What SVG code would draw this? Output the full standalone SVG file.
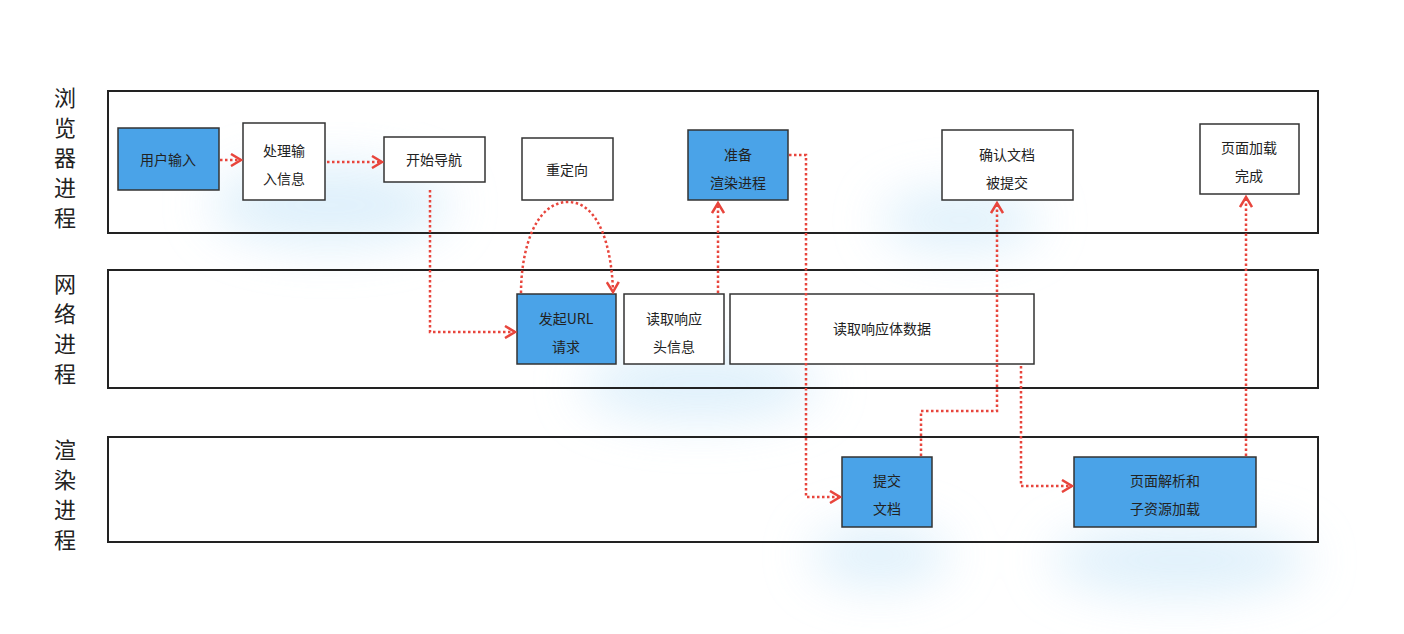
<svg xmlns="http://www.w3.org/2000/svg" width="1404" height="634" viewBox="0 0 1404 634">
<style>
.lane{fill:none;stroke:#222;stroke-width:2}
.n{stroke:#333;stroke-width:1.5;fill:#fff}
.b{fill:#4aa3e8}
text{font-family:"Noto Sans CJK SC","Liberation Sans",sans-serif;font-size:14px;fill:#222;text-anchor:middle}
.lbl{font-size:22px}
.c{fill:none;stroke:#e8453c;stroke-width:2.5;stroke-dasharray:2.5 2.5}
</style>
<defs>
<marker id="ah" viewBox="0 0 14 14" refX="12" refY="7" markerWidth="14" markerHeight="14" markerUnits="userSpaceOnUse" orient="auto"><path d="M2,1 L12,7 L2,13" fill="none" stroke="#e8453c" stroke-width="2.5"/></marker>
<filter id="bl"><feGaussianBlur stdDeviation="25"/></filter>
</defs>
<rect width="1404" height="634" fill="#fff"/>
<g filter="url(#bl)" fill="#d6ecfa" opacity="0.8">
<ellipse cx="330" cy="205" rx="120" ry="40"/>
<ellipse cx="700" cy="385" rx="120" ry="35"/>
<ellipse cx="960" cy="220" rx="80" ry="30"/>
<ellipse cx="1180" cy="560" rx="130" ry="35"/>
<ellipse cx="880" cy="555" rx="70" ry="30"/>
</g>
<g id="lanes">
<rect class="lane" x="108" y="91" width="1210" height="142"/>
<rect class="lane" x="108" y="270" width="1210" height="118"/>
<rect class="lane" x="108" y="437" width="1210" height="105"/>
<text class="lbl" x="65" y="106">浏</text><text class="lbl" x="65" y="136">览</text><text class="lbl" x="65" y="166">器</text><text class="lbl" x="65" y="196">进</text><text class="lbl" x="65" y="226">程</text>
<text class="lbl" x="65" y="292">网</text><text class="lbl" x="65" y="322">络</text><text class="lbl" x="65" y="352">进</text><text class="lbl" x="65" y="382">程</text>
<text class="lbl" x="65" y="458">渲</text><text class="lbl" x="65" y="488">染</text><text class="lbl" x="65" y="518">进</text><text class="lbl" x="65" y="548">程</text>
</g>
<g id="n1"><rect class="n b" x="118" y="128" width="101" height="62"/><text x="168" y="165">用户输入</text></g>
<g id="n2"><rect class="n" x="243" y="123" width="82" height="77"/><text x="284" y="156">处理输</text><text x="284" y="184">入信息</text></g>
<g id="n3"><rect class="n" x="384" y="137" width="101" height="45"/><text x="434" y="165">开始导航</text></g>
<g id="n4"><rect class="n" x="522" y="138" width="91" height="62"/><text x="567" y="175">重定向</text></g>
<g id="n5"><rect class="n b" x="688" y="130" width="100" height="70"/><text x="738" y="160">准备</text><text x="738" y="188">渲染进程</text></g>
<g id="n6"><rect class="n" x="942" y="130" width="131" height="70"/><text x="1007" y="160">确认文档</text><text x="1007" y="188">被提交</text></g>
<g id="n7"><rect class="n" x="1200" y="124" width="99" height="70"/><text x="1249" y="153">页面加载</text><text x="1249" y="181">完成</text></g>
<g id="n8"><rect class="n b" x="517" y="294" width="99" height="70"/><text x="566" y="324">发起URL</text><text x="566" y="352">请求</text></g>
<g id="n9"><rect class="n" x="624" y="294" width="100" height="70"/><text x="674" y="324">读取响应</text><text x="674" y="352">头信息</text></g>
<g id="n10"><rect class="n" x="730" y="294" width="304" height="70"/><text x="882" y="334">读取响应体数据</text></g>
<g id="n11"><rect class="n b" x="842" y="457" width="90" height="70"/><text x="887" y="486">提交</text><text x="887" y="514">文档</text></g>
<g id="n12"><rect class="n b" x="1074" y="457" width="182" height="70"/><text x="1165" y="486">页面解析和</text><text x="1165" y="514">子资源加载</text></g>
<g id="connectors">
<path class="c" d="M220,160 H241" marker-end="url(#ah)"/>
<path class="c" d="M327,162 H382" marker-end="url(#ah)"/>
<path class="c" d="M430,190 V332 H515" marker-end="url(#ah)"/>
<path class="c" d="M521,293 C521,250 535,202 568,202 C600,202 612,250 613,292" marker-end="url(#ah)"/>
<path class="c" d="M718,293 V203" marker-end="url(#ah)"/>
<path class="c" d="M789,155 H806 V497 H840" marker-end="url(#ah)"/>
<path class="c" d="M921,456 V411 H997 V203" marker-end="url(#ah)"/>
<path class="c" d="M1021,366 V486 H1072" marker-end="url(#ah)"/>
<path class="c" d="M1246,456 V197" marker-end="url(#ah)"/>
</g>
</svg>
